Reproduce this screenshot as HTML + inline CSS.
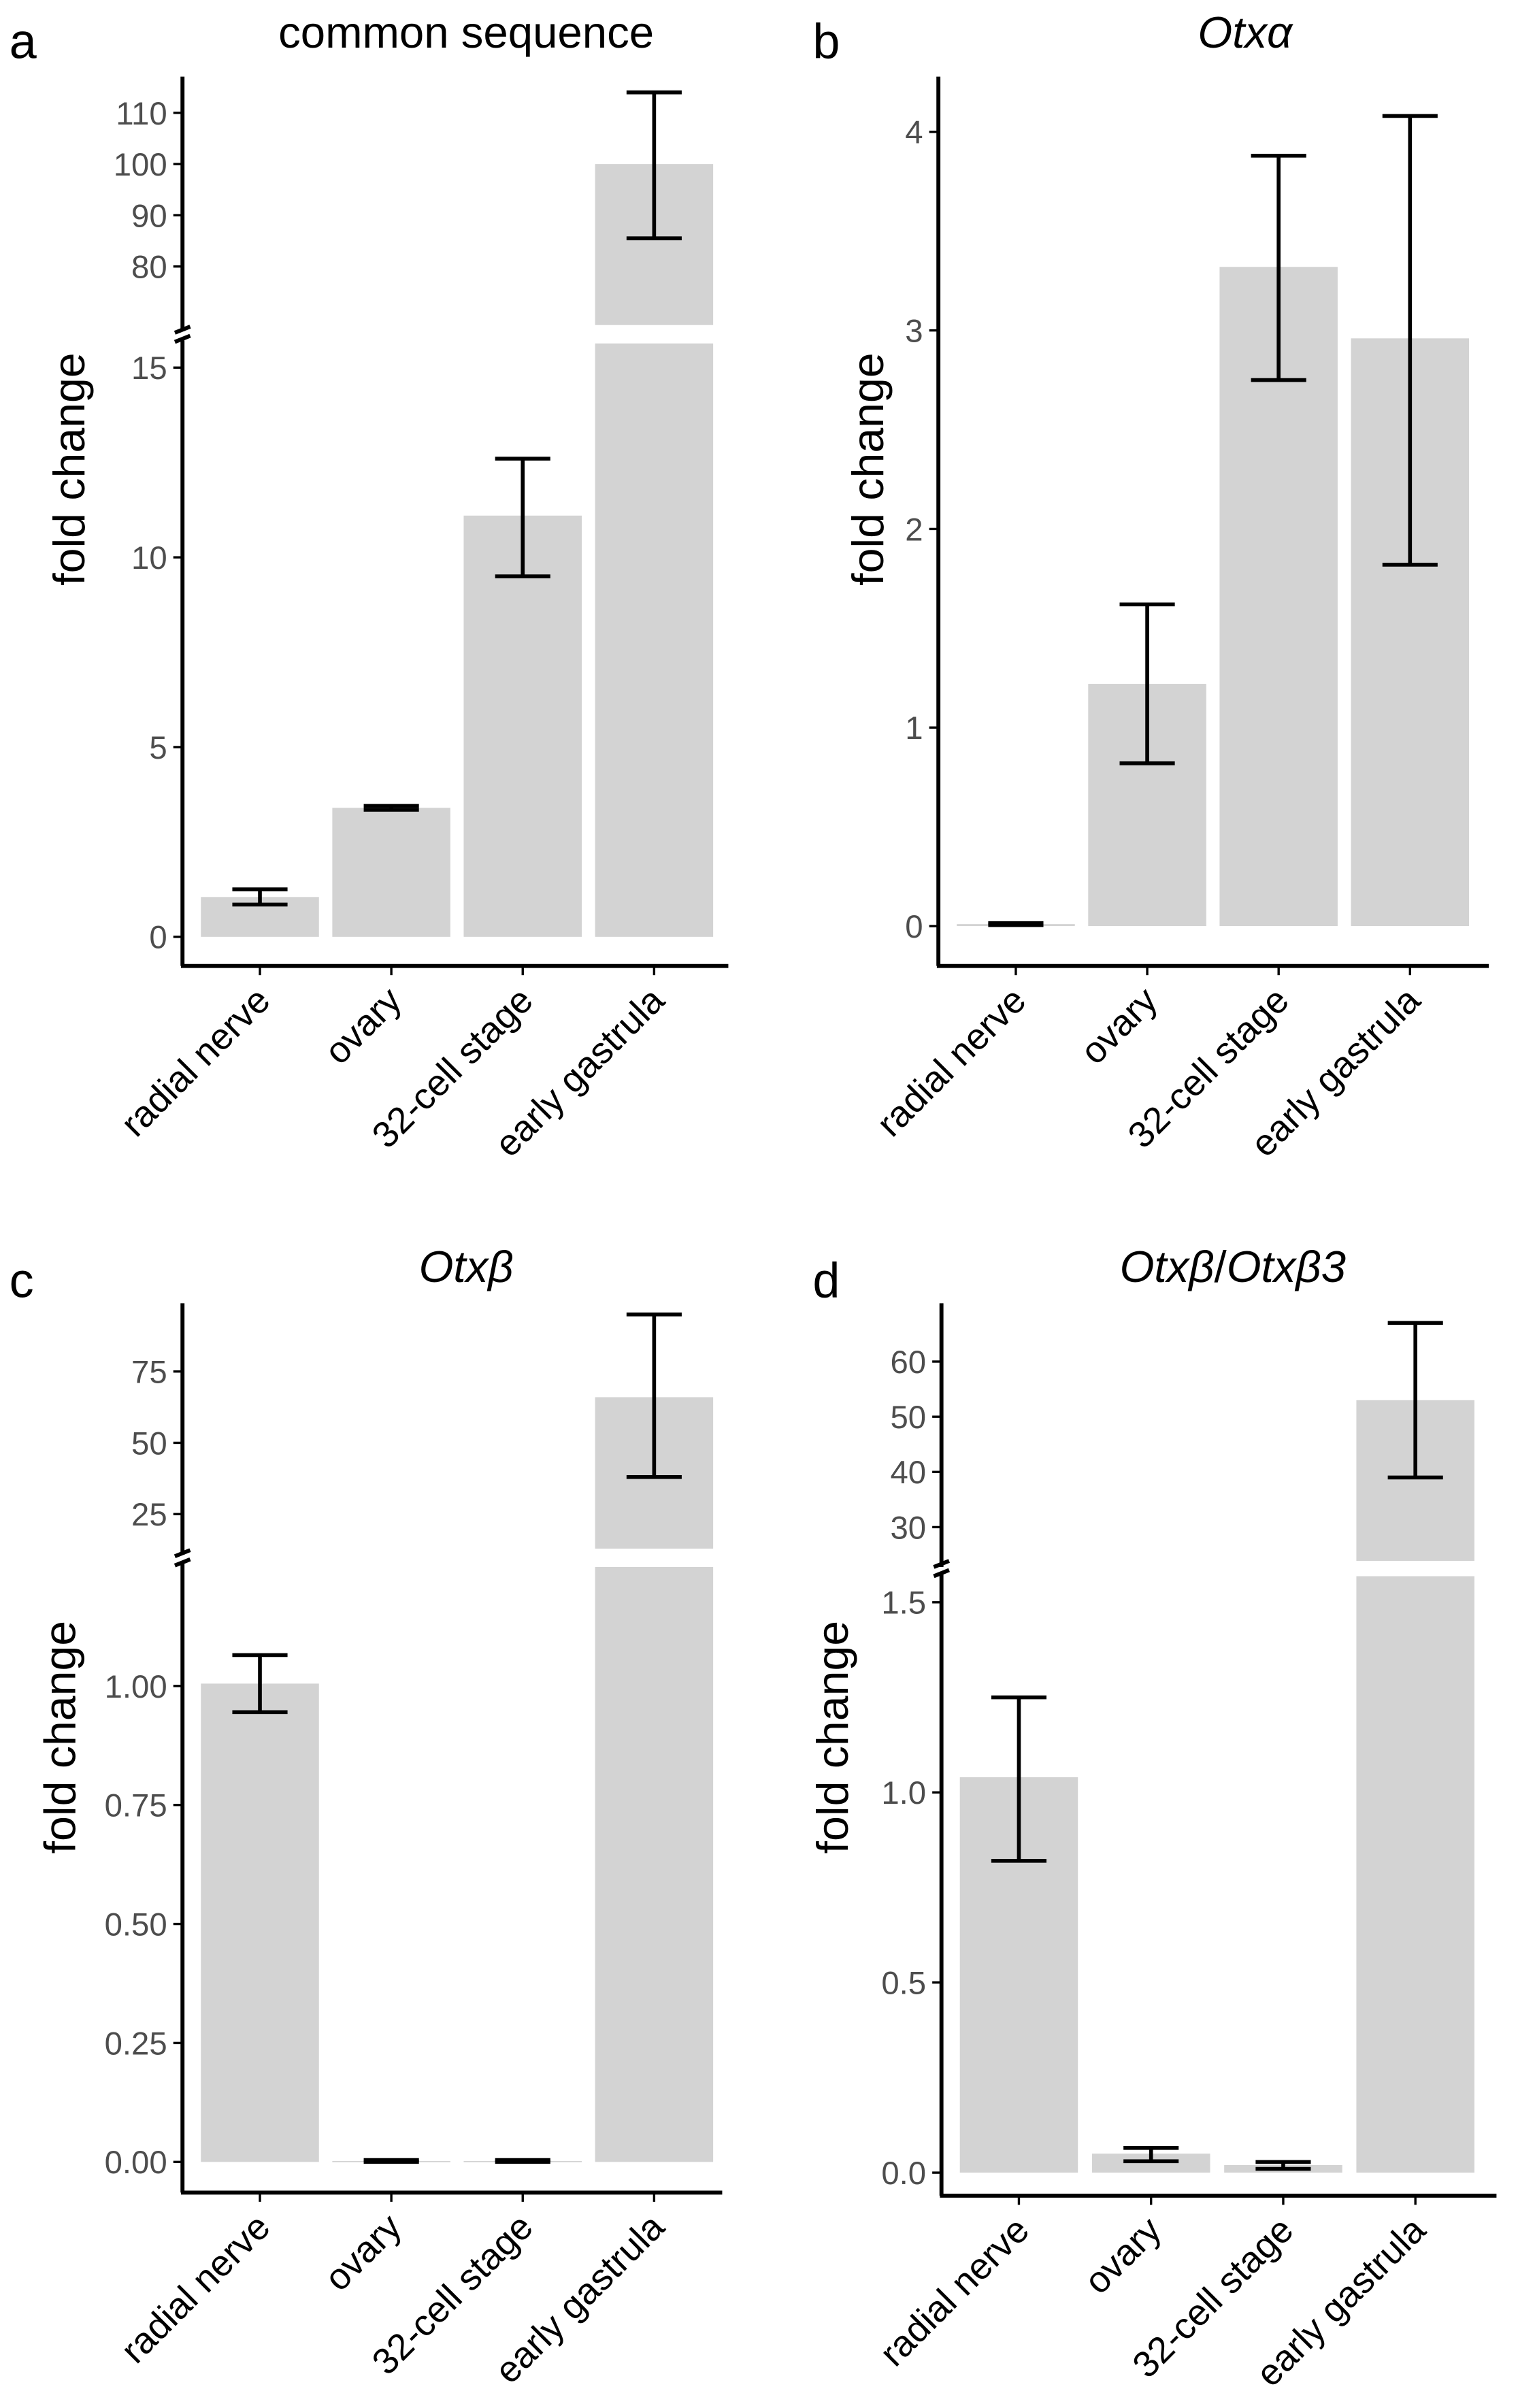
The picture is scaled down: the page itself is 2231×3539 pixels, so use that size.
<!DOCTYPE html>
<html><head><meta charset="utf-8">
<style>
html,body{margin:0;padding:0;background:#fff;}
svg{display:block;}
text{font-family:"Liberation Sans",sans-serif;}
</style></head>
<body>
<svg id="fig" xmlns="http://www.w3.org/2000/svg" width="2231" height="3539" viewBox="0 0 990 1570.5"></svg>
<script>
const categories = ["radial nerve","ovary","32-cell stage","early gastrula"];
// panel a
const aValues = [1.05, 3.4, 11.1, 100];
const aLow = [0.85, 3.35, 9.5, 85.5];
const aHigh = [1.25, 3.45, 12.6, 114];
const aLowerTicks = ["0","5","10","15"];
const aUpperTicks = ["80","90","100","110"];
// panel b
const bValues = [0.01, 1.22, 3.32, 2.96];
const bLow = [0.005, 0.82, 2.75, 1.82];
const bHigh = [0.015, 1.62, 3.88, 4.08];
const bTicks = ["0","1","2","3","4"];
// panel c
const cValues = [1.005, 0.002, 0.002, 66];
const cLow = [0.945, 0.0, 0.0, 38];
const cHigh = [1.065, 0.004, 0.004, 95];
const cLowerTicks = ["0.00","0.25","0.50","0.75","1.00"];
const cUpperTicks = ["25","50","75"];
// panel d
const dValues = [1.04, 0.05, 0.02, 53];
const dLow = [0.82, 0.03, 0.01, 39];
const dHigh = [1.25, 0.065, 0.028, 67];
const dLowerTicks = ["0.0","0.5","1.0","1.5"];
const dUpperTicks = ["30","40","50","60"];

const NS = "http://www.w3.org/2000/svg";
const svg = document.getElementById("fig");
function mk(tag, attrs, parent, txt){
  const e = document.createElementNS(NS, tag);
  for (const k in attrs) e.setAttribute(k, attrs[k]);
  if (txt !== undefined) e.textContent = txt;
  (parent || svg).appendChild(e);
  return e;
}

function panel(cfg){
  const g = mk("g", {});
  
  
  const L = cfg.lower, U = cfg.upper;
  const yL = v => L.y0 - (v - L.v0) * L.k;
  const yU = U ? (v => U.y0 - (v - U.v0) * U.k) : null;
  const bw = 77, step = cfg.step;
  const xc = i => cfg.x0 + 12 + bw/2 + i*step;
  cfg.values.forEach((v,i)=>{
    const x = xc(i) - bw/2;
    if (U && v > L.max){
      const r1 = mk("rect",{x:x,y:L.top,width:bw,height:yL(0)-L.top,fill:"#d3d3d3"},g);
      
      
      const r2 = mk("rect",{x:x,y:yU(v),width:bw,height:U.bottom-yU(v),fill:"#d3d3d3"},g);
      
      
    } else {
      const r = mk("rect",{x:x,y:yL(v),width:bw,height:Math.max(yL(0)-yL(v),0.8),fill:"#d3d3d3"},g);
      
      
    }
    const yy = val => (U && val > L.max) ? yU(val) : yL(val);
    const lo = yy(cfg.low[i]), hi = yy(cfg.high[i]);
    const eb = mk("g",{stroke:"#000","stroke-width":2.5,fill:"none"},g);
    
    
    mk("line",{x1:xc(i),x2:xc(i),y1:lo,y2:hi},eb);
    mk("line",{x1:xc(i)-18,x2:xc(i)+18,y1:lo,y2:lo},eb);
    mk("line",{x1:xc(i)-18,x2:xc(i)+18,y1:hi,y2:hi},eb);
  });
  const ax = cfg.x0, axY = cfg.axisY;
  const yaxis = mk("g",{stroke:"#000","stroke-width":2.6},g);
  
  
  if (U){
    mk("line",{x1:ax,x2:ax,y1:axY,y2:L.top-2},yaxis);
    mk("line",{x1:ax,x2:ax,y1:U.bottom+4,y2:cfg.topY},yaxis);
    const bm = (U.bottom + L.top)/2;
    mk("line",{x1:ax-5,x2:ax+5,y1:bm-1,y2:bm-5},yaxis);
    mk("line",{x1:ax-5,x2:ax+5,y1:bm+5,y2:bm+1},yaxis);
  } else {
    mk("line",{x1:ax,x2:ax,y1:axY,y2:cfg.topY},yaxis);
  }
  const xaxis = mk("line",{x1:ax-1,x2:cfg.xEnd,y1:axY,y2:axY,stroke:"#000","stroke-width":2.6},g);
  
  
  const tick = (y,label)=>{
    mk("line",{x1:ax-6,x2:ax,y1:y,y2:y,stroke:"#000","stroke-width":1.5},g);
    const t = mk("text",{x:ax-10,y:y+7.5,"text-anchor":"end","font-size":21,fill:"#4d4d4d"},g,label);
    
    
  };
  cfg.lowerTicks.forEach(s=>tick(yL(parseFloat(s)),s));
  if (U) cfg.upperTicks.forEach(s=>tick(yU(parseFloat(s)),s));
  categories.forEach((c,i)=>{
    mk("line",{x1:xc(i),x2:xc(i),y1:axY,y2:axY+6,stroke:"#000","stroke-width":1.5},g);
    const t = mk("text",{x:xc(i)+8,y:axY+24,"text-anchor":"end","font-size":24,fill:"#000",
      transform:`rotate(-45 ${xc(i)+8} ${axY+24})`},g,c);
    
    
  });
  const yt = mk("text",{x:cfg.ytX,y:cfg.ytY,"text-anchor":"middle","font-size":29,fill:"#000",
    textLength:152,lengthAdjust:"spacingAndGlyphs",
    transform:`rotate(-90 ${cfg.ytX} ${cfg.ytY})`},g,"fold change");
  
  
  const tt = mk("text",{x:cfg.titleX,y:cfg.titleY,"text-anchor":"middle","font-size":29,fill:"#000"},g);
  
  
  cfg.title.forEach(p=>{ mk("tspan",{"font-style":p[1]?"italic":"normal"},tt,p[0]); });
  const lt = mk("text",{x:cfg.letterX,y:cfg.letterY,"font-size":32,fill:"#000"},g,cfg.letter);
  
  
}

panel({name:"panel-a",letter:"a",letterX:6,letterY:38,title:[["common sequence",false]],titleX:304,titleY:31,
  x0:119,step:85.7,xEnd:475,axisY:630,topY:50,ytX:55,ytY:306,
  values:aValues,low:aLow,high:aHigh,lowerTicks:aLowerTicks,upperTicks:aUpperTicks,
  lower:{y0:611,v0:0,k:24.75,top:224,max:16},
  upper:{y0:107,v0:100,k:3.34,bottom:212}});
panel({name:"panel-b",letter:"b",letterX:530,letterY:38,title:[["Otxα",true]],titleX:812,titleY:31,
  x0:612,step:85.7,xEnd:971,axisY:630,topY:50,ytX:576,ytY:306,
  values:bValues,low:bLow,high:bHigh,lowerTicks:bTicks,
  lower:{y0:604,v0:0,k:129.5,top:50,max:100}});
panel({name:"panel-c",letter:"c",letterX:6,letterY:846,title:[["Otxβ",true]],titleX:304,titleY:836,
  x0:119,step:85.7,xEnd:471,axisY:1430,topY:850,ytX:49,ytY:1133,
  values:cValues,low:cLow,high:cHigh,lowerTicks:cLowerTicks,upperTicks:cUpperTicks,
  lower:{y0:1410,v0:0,k:310.4,top:1022,max:2},
  upper:{y0:941,v0:50,k:1.86,bottom:1010}});
panel({name:"panel-d",letter:"d",letterX:530,letterY:846,title:[["Otxβ",true],["/",false],["Otxβ3",true]],titleX:804,titleY:836,
  x0:614,step:86.2,xEnd:976,axisY:1432,topY:850,ytX:553,ytY:1133,
  values:dValues,low:dLow,high:dHigh,lowerTicks:dLowerTicks,upperTicks:dUpperTicks,
  lower:{y0:1417,v0:0,k:248,top:1028,max:2},
  upper:{y0:924,v0:50,k:3.6,bottom:1018}});
</script>
</body></html>
